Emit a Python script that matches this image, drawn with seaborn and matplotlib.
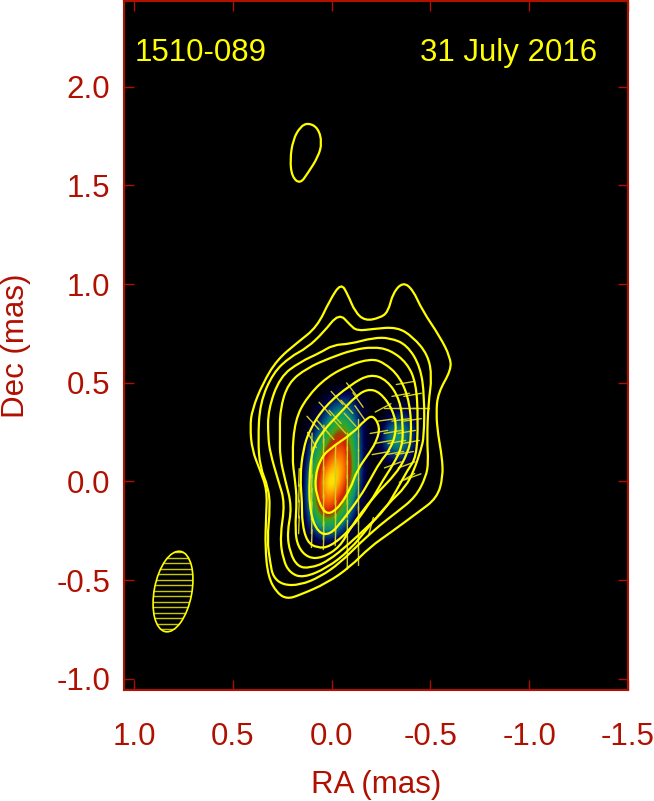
import matplotlib
matplotlib.use("Agg")
import matplotlib.pyplot as plt
import numpy as np
import pandas as pd
import seaborn as sns
from matplotlib.colors import LinearSegmentedColormap
from matplotlib.patches import Ellipse, PathPatch
from matplotlib.path import Path

# contours: RA (mas), Dec (mas), outermost first
c1_ra = [-.048, -.083, -.119, -.170, -.245, -.286, -.311, -.362, -.412, -.458, -.549, -.600, -.605, -.539, -.529, -.539, -.559, -.564, -.534, -.433, -.296, -.195, -.094, .023, .159, .225, .276, .321, .336, .331, .326, .362, .402, .412, .402, .347, .276, .175, .073, .008]
c1_dec = [1.006, .946, .859, .814, .829, .859, .956, 1.011, .971, .869, .733, .631, .565, .449, .347, .236, .124, .023, -.084, -.160, -.261, -.332, -.433, -.515, -.575, -.596, -.565, -.484, -.332, -.180, -.043, .058, .160, .276, .363, .499, .616, .702, .783, .920]
c2_ra = [-.038, -.094, -.129, -.210, -.331, -.412, -.488, -.508, -.490, -.483, -.490, -.478, -.425, -.331, -.245, -.144, -.043, .058, .159, .245, .296, .310, .326, .310, .321, .362, .372, .362, .296, .210, .124, .043]
c2_dec = [.854, .793, .763, .773, .783, .733, .641, .530, .398, .210, .099, .023, -.079, -.155, -.221, -.312, -.413, -.484, -.525, -.525, -.484, -.413, -.297, -.129, -.028, .074, .210, .398, .550, .631, .677, .753]
c3_ra = [-.008, -.094, -.210, -.296, -.382, -.450, -.470, -.468, -.452, -.418, -.375, -.290, -.195, -.094, .023, .144, .210, .245, .261, .235, .271, .310, .321, .321, .261, .159, .058]
c3_dec = [.692, .697, .728, .728, .692, .581, .428, .226, .160, .058, -.028, -.109, -.221, -.347, -.439, -.489, -.464, -.398, -.281, -.109, .008, .144, .226, .363, .530, .606, .652]
c4_ra = [.008, -.109, -.210, -.296, -.382, -.428, -.438, -.430, -.385, -.330, -.270, -.180, -.094, .023, .109, .170, .210, .225, .200, .235, .261, .261, .261, .220, .124]
c4_dec = [.626, .667, .682, .667, .601, .499, .312, .124, .058, -.043, -.144, -.231, -.312, -.408, -.439, -.433, -.363, -.261, -.129, .008, .124, .226, .363, .499, .575]
c5_ra = [.124, .023, -.094, -.195, -.261, -.347, -.397, -.405, -.385, -.331, -.210, -.094, -.043, .048, .119, .170, .185, .175, .185, .200, .185]
c5_dec = [.428, .530, .591, .621, .606, .530, .398, .226, .144, .043, -.079, -.236, -.332, -.388, -.388, -.332, -.246, -.094, .008, .124, .312]
c6_ra = [.112, .033, -.094, -.195, -.281, -.347, -.362, -.357, -.311, -.261, -.195, -.094, .008, .073, .124, .149, .149, .159, .144]
c6_dec = [.261, .383, .489, .545, .515, .413, .276, .175, .084, .008, -.109, -.246, -.332, -.337, -.307, -.210, -.109, .023, .160]
c7_ra = [.048, -.043, -.119, -.180, -.245, -.311, -.331, -.296, -.245, -.195, -.144, -.058, .008, .068, .109, .114, .099]
c7_dec = [.251, .347, .428, .469, .454, .363, .261, .160, .099, .008, -.079, -.195, -.271, -.261, -.160, .008, .160]
c8_ra = [.018, -.109, -.170, -.210, -.245, -.230, -.195, -.129, -.094, -.028, .033, .078, .083, .058]
c8_dec = [.160, .246, .312, .337, .276, .210, .149, .058, -.043, -.144, -.170, -.068, .023, .109]
blob_ra = [.119, .068, .048, .068, .119, .159, .200, .210, .195, .159]
blob_dec = [1.818, 1.792, 1.716, 1.645, 1.564, 1.508, 1.544, 1.630, 1.731, 1.797]

# colour map values on a coarse grid, rows go down in Dec, columns go down in RA
image_ra = [.15, .10, .05, 0, -.05, -.10, -.15, -.20, -.25, -.30, -.35, -.40, -.45]
image_dec = [.50, .45, .40, .35, .30, .25, .20, .15, .10, .05, 0, -.05, -.10, -.15, -.20, -.25, -.30, -.35]
image_vals = [
    [0, 0, 0, 0, 0, 0, 0, 0, 0, 0, 0, 0, 0],
    [0, 0, 0, 4, 8, 8, 1, 0, 0, 0, 0, 0, 0],
    [0, 0, 4, 14, 22, 18, 5, 0, 0, 0, 6, 4, 0],
    [0, 2, 10, 26, 36, 26, 8, 0, 0, 6, 14, 8, 2],
    [0, 5, 18, 40, 50, 36, 10, 0, 2, 18, 26, 14, 2],
    [0, 10, 30, 52, 68, 48, 12, 0, 8, 32, 38, 20, 3],
    [0, 18, 42, 64, 76, 54, 12, 0, 10, 34, 38, 20, 3],
    [0, 24, 55, 76, 84, 60, 12, 0, 6, 24, 28, 14, 2],
    [0, 30, 68, 86, 90, 64, 12, 0, 2, 10, 12, 5, 0],
    [0, 38, 80, 94, 92, 64, 12, 0, 0, 0, 0, 0, 0],
    [0, 42, 86, 100, 88, 58, 10, 0, 0, 0, 0, 0, 0],
    [0, 44, 86, 94, 80, 48, 8, 0, 0, 0, 0, 0, 0],
    [0, 42, 82, 84, 68, 36, 5, 0, 0, 0, 0, 0, 0],
    [0, 36, 72, 72, 54, 24, 3, 0, 0, 0, 0, 0, 0],
    [0, 26, 52, 54, 38, 14, 0, 0, 0, 0, 0, 0, 0],
    [0, 14, 30, 32, 20, 6, 0, 0, 0, 0, 0, 0, 0],
    [0, 5, 12, 12, 6, 0, 0, 0, 0, 0, 0, 0, 0],
    [0, 0, 0, 0, 0, 0, 0, 0, 0, 0, 0, 0, 0],
]

# polarization sticks: centre and angle from north (deg, + leans right on the page)
stick_ra = [.165, .165, .165, .165,
            .10, .10, .10, .10, .10, .10, .10, .10,
            .04, .04, .04, .04, .04, .04, .04, .04, .04,
            -.02, -.02, -.02, -.02, -.02, -.02, -.02,
            -.08, -.08, -.08, -.08, -.08, -.08, -.08, -.08, -.08,
            -.135, -.135, -.135, -.135, -.135, -.135, -.135, -.135, -.135, -.135,
            .094, .033, -.028, -.104, .043, -.018, -.078, -.134, .018, -.043, -.094, -.144, .099,
            -.372, -.35, -.41, -.31, -.38, -.45, -.261, -.28, -.35, -.41, -.24, -.31, -.38,
            -.26, -.33, -.40, -.25, -.32, -.37, -.31, -.38, -.41, -.200, -.382]
stick_dec = [.02, -.06, -.14, -.22,
             .20, .13, .06, -.01, -.08, -.15, -.22, -.29,
             .24, .17, .10, .03, -.04, -.11, -.18, -.25, -.30,
             .14, .07, 0, -.07, -.14, -.21, -.28,
             .20, .13, .06, -.01, -.07, -.14, -.24, -.32, -.40,
             .27, .20, .12, .05, -.03, -.10, -.17, -.24, -.31, -.38,
             .297, .368, .423, .464, .276, .327, .378, .413, .246, .276, .312, .347, .210,
             .499, .439, .439, .373, .373, .373, .373, .312, .312, .312, .251, .251, .251,
             .200, .200, .200, .144, .144, .144, .084, .084, .023, -.226, .018]
stick_pa = [2, 2, 2, 2,
            2, 2, 2, 2, 2, 2, 2, 2,
            2, 2, 2, 2, 2, 2, 2, 2, 2,
            2, 2, 2, 2, 2, 2, 2,
            1, 1, 1, 1, 1, 1, 1, 1, 1,
            0, 0, 0, 0, 0, 0, 0, 0, 0, 0,
            -42, -42, -42, -38, -42, -42, -42, -35, -42, -42, -42, -35, -30,
            80, 80, 80, 90, 90, 90, 62, 82, 82, 82, 80, 80, 80,
            80, 80, 80, 80, 80, 80, 70, 70, 70, 15, 60]

beam_ra = 0.802
beam_dec = -0.558
beam_major = 0.414
beam_minor = 0.190
beam_angle = 10.7

x_ticks = [1.0, 0.5, 0.0, -0.5, -1.0, -1.5]
y_ticks = [-1.0, -0.5, 0.0, 0.5, 1.0, 1.5, 2.0]

RED = "#b01000"
YELLOW = "#ffff00"

sns.set_theme(style="ticks", rc={"axes.facecolor": "black"})
plt.rcParams["font.family"] = ["Liberation Sans", "DejaVu Sans"]

fig = plt.figure(figsize=(6.54, 8.01), dpi=100)
ax = fig.add_axes([124 / 654, 111 / 801, 504 / 654, 689 / 801])

cmap = LinearSegmentedColormap.from_list("jet_like", [
    (0.0, "#000000"), (0.10, "#000050"), (0.22, "#004a80"), (0.34, "#109078"),
    (0.46, "#20a840"), (0.55, "#50a010"), (0.63, "#a04000"), (0.70, "#d82000"),
    (0.85, "#ff8000"), (0.97, "#ffff00"), (1.0, "#ffff00")])
ax.imshow(image_vals, cmap=cmap, vmin=0, vmax=100, interpolation="bicubic", aspect="auto",
          extent=[image_ra[0] + .025, image_ra[-1] - .025, image_dec[-1] - .025, image_dec[0] + .025])

# the sticks go in as one long table, one unit per stick
# RA runs right to left, so the upper end of a stick leaning right has the smaller RA
half = 0.045
rows = []
for i, (r, d, pa) in enumerate(zip(stick_ra, stick_dec, stick_pa)):
    dx = half * np.sin(np.radians(pa))
    dy = half * np.cos(np.radians(pa))
    rows.append({"stick": i, "ra": r - dx, "dec": d + dy})
    rows.append({"stick": i, "ra": r + dx, "dec": d - dy})
sticks = pd.DataFrame(rows)
sns.lineplot(data=sticks, x="ra", y="dec", units="stick", estimator=None, sort=False,
             color="#d0d020", lw=1.0, ax=ax, legend=False)


def draw_contour(ra, dec):
    # points are spline control points, so the loop comes out smooth
    pts = np.column_stack([ra, dec])
    mids = (pts + np.roll(pts, -1, axis=0)) / 2
    verts = [mids[-1]]
    codes = [Path.MOVETO]
    for p, m in zip(pts, mids):
        verts += [p, m]
        codes += [Path.CURVE3, Path.CURVE3]
    ax.add_patch(PathPatch(Path(verts, codes), fc="none", ec=YELLOW, lw=1.6, zorder=4))


for ra, dec in [(c1_ra, c1_dec), (c2_ra, c2_dec), (c3_ra, c3_dec), (c4_ra, c4_dec),
                (c5_ra, c5_dec), (c6_ra, c6_dec), (c7_ra, c7_dec), (c8_ra, c8_dec),
                (blob_ra, blob_dec)]:
    draw_contour(ra, dec)

# beam with its hatching
beam = Ellipse((beam_ra, beam_dec), beam_minor, beam_major, angle=beam_angle,
               fc="none", ec=YELLOW, lw=1.2, zorder=5)
ax.add_patch(beam)
for d in np.arange(beam_dec - .22, beam_dec + .22, .028):
    hatch_line, = ax.plot([beam_ra - .15, beam_ra + .15], [d, d], color="#c8c800", lw=1, zorder=4)
    hatch_line.set_clip_path(beam)

ax.set_xlim(1.05, -1.5)
ax.set_ylim(-1.057, 2.435)
ax.set_xticks(x_ticks)
ax.set_yticks(y_ticks)
ax.set_xticklabels([f"{v:.1f}" for v in x_ticks])
ax.set_yticklabels([f"{v:.1f}" for v in y_ticks])
ax.tick_params(direction="in", length=7.2, width=1, color=RED, labelcolor=RED, labelsize=22.5,
               top=True, right=True, pad=10)
ax.tick_params(axis="x", pad=23)
ax.set_xlabel("RA (mas)", fontsize=22.5, color=RED, labelpad=13)
ax.set_ylabel("Dec (mas)", fontsize=22.5, color=RED, labelpad=18)
for spine in ax.spines.values():
    spine.set_color(RED)
    spine.set_linewidth(1.5)
    spine.set_visible(True)

ax.text(0.994, 2.13, "1510-089", color=YELLOW, fontsize=22.5, ha="left", va="baseline")
ax.text(-1.343, 2.13, "31 July 2016", color=YELLOW, fontsize=22.5, ha="right", va="baseline")

fig.savefig("out.png", dpi=100)
